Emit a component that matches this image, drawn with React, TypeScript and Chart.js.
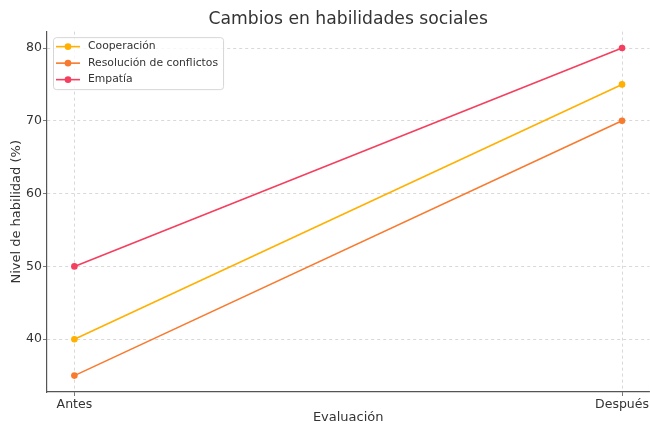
import React, { useEffect, useRef } from "react";
import { Chart, registerables } from "chart.js";

Chart.register(...registerables);

const categories = ["Antes", "Después"];
const seriesNames = ["Cooperación", "Resolución de conflictos", "Empatía"];
const cooperacion = [40, 75];
const resolucion = [35, 70];
const empatia = [50, 80];
const yTicks = [40, 50, 60, 70, 80];
const colors = ["#FFB000", "#F87A2E", "#F43F5E"];

const FONT = "'DejaVu Sans', sans-serif";

const legendPlugin = {
  id: "boxLegend",
  afterDraw(chart: any) {
    const ctx = chart.ctx;
    const area = chart.chartArea;
    const x0 = area.left + 6;
    const y0 = area.top + 5.5;
    ctx.save();
    ctx.font = `10.8px ${FONT}`;
    let maxW = 0;
    seriesNames.forEach((n) => {
      maxW = Math.max(maxW, ctx.measureText(n).width);
    });
    const w = 35 + maxW + 5;
    const h = 52;
    ctx.fillStyle = "rgba(255,255,255,0.8)";
    ctx.strokeStyle = "#d6d6d6";
    ctx.lineWidth = 1;
    ctx.beginPath();
    if (ctx.roundRect) ctx.roundRect(x0 + 0.5, y0 + 0.5, w, h, 3);
    else ctx.rect(x0 + 0.5, y0 + 0.5, w, h);
    ctx.fill();
    ctx.stroke();
    seriesNames.forEach((n, i) => {
      const cy = y0 + 9.5 + i * 16.5;
      ctx.strokeStyle = colors[i];
      ctx.lineWidth = 1.6;
      ctx.beginPath();
      ctx.moveTo(x0 + 3, cy);
      ctx.lineTo(x0 + 27, cy);
      ctx.stroke();
      ctx.fillStyle = colors[i];
      ctx.beginPath();
      ctx.arc(x0 + 15, cy, 3.3, 0, Math.PI * 2);
      ctx.fill();
      ctx.fillStyle = "#333333";
      ctx.textBaseline = "middle";
      ctx.textAlign = "left";
      ctx.fillText(n, x0 + 35, cy);
    });
    ctx.restore();
  },
};

export default function App() {
  const ref = useRef<HTMLCanvasElement>(null);
  useEffect(() => {
    if (!ref.current) return;
    const all = [cooperacion, resolucion, empatia];
    const chart = new Chart(ref.current, {
      type: "line",
      data: {
        datasets: all.map((vals, i) => ({
          label: seriesNames[i],
          data: vals.map((v, j) => ({ x: j, y: v })),
          borderColor: colors[i],
          backgroundColor: colors[i],
          borderWidth: 1.6,
          pointRadius: 3.3,
          pointHoverRadius: 3.3,
          pointBorderWidth: 0,
          tension: 0,
          fill: false,
          clip: false,
        })),
      },
      options: {
        responsive: false,
        animation: false,
        layout: { autoPadding: false, padding: { left: 0, right: 0, top: 0, bottom: 0 } },
        plugins: {
          legend: { display: false },
          tooltip: { enabled: false },
          title: {
            display: true,
            text: "Cambios en habilidades sociales",
            fullSize: false,
            color: "#333333",
            font: { family: FONT, size: 17.2, weight: "normal" },
            padding: { top: 9, bottom: 2 },
          },
        },
        scales: {
          x: {
            type: "linear",
            min: -0.05,
            max: 1.05,
            afterBuildTicks: (axis: any) => {
              axis.ticks = categories.map((_, i) => ({ value: i }));
            },
            afterFit: (axis: any) => {
              axis.height = 33;
            },
            ticks: {
              callback: (v: any) => categories[Number(v)] ?? "",
              color: "#333333",
              font: { family: FONT, size: 12.5 },
              padding: 1,
              maxRotation: 0,
            },
            grid: {
              color: "#cfcfcf",
              lineWidth: 0.8,
              tickLength: 4,
              tickColor: "#555555",
              tickBorderDash: [],
            },
            border: { display: true, color: "#555555", width: 1.2, dash: [3, 3] },
            title: {
              display: true,
              text: "Evaluación",
              color: "#333333",
              font: { family: FONT, size: 13 },
              padding: { top: 0, bottom: 0 },
            },
          },
          y: {
            type: "linear",
            min: 32.75,
            max: 82.25,
            afterBuildTicks: (axis: any) => {
              axis.ticks = yTicks.map((v) => ({ value: v }));
            },
            afterFit: (axis: any) => {
              axis.width = 47;
            },
            ticks: {
              color: "#333333",
              font: { family: FONT, size: 12.5 },
              padding: 1,
            },
            grid: {
              color: "#cfcfcf",
              lineWidth: 0.8,
              tickLength: 4,
              tickColor: "#555555",
              tickBorderDash: [],
            },
            border: { display: true, color: "#555555", width: 1.2, dash: [3, 3] },
            title: {
              display: true,
              text: "Nivel de habilidad (%)",
              color: "#333333",
              font: { family: FONT, size: 13 },
              padding: { top: 9, bottom: 0 },
            },
          },
        },
      },
      plugins: [legendPlugin],
    } as any);
    return () => chart.destroy();
  }, []);
  return (
    <div style={{ position: "absolute", left: 0, top: 0, width: 650, height: 425, background: "#fff" }}>
      <canvas ref={ref} width={650} height={425} style={{ width: 650, height: 425 }} />
    </div>
  );
}
